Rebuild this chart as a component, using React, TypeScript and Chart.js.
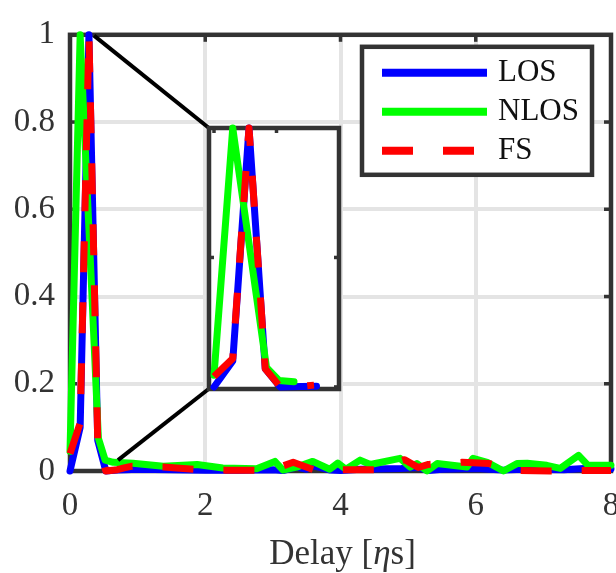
import React, { useEffect, useRef } from "react";
import { Chart, registerables } from "chart.js";

Chart.register(...registerables);

// ---------- data ----------
const losDelay = [0, 0.15, 0.28, 0.41, 0.53, 0.7, 0.82, 1.0, 1.5, 2.0, 2.5, 3.0, 3.15, 3.35, 3.5, 3.6, 3.85, 4.0, 4.3, 4.9, 5.15, 5.3, 5.5, 6.0, 6.4, 6.7, 7.3, 7.6, 8.0];
const losValue = [0, 0.1, 1.0, 0.07, 0.0, 0.002, 0.003, 0.004, 0.003, 0.002, 0.002, 0.003, 0.001, 0.009, 0.004, 0.012, 0.002, 0.001, 0.004, 0.006, 0.008, 0.001, 0.004, 0.006, 0.002, 0.004, 0.003, 0.006, 0.005];

const nlosDelay = [0, 0.15, 0.42, 0.52, 0.64, 0.93, 1.38, 1.88, 2.26, 2.76, 3.03, 3.15, 3.35, 3.59, 3.84, 3.96, 4.08, 4.29, 4.44, 4.88, 5.03, 5.13, 5.28, 5.43, 5.87, 5.96, 6.17, 6.41, 6.61, 6.76, 7.05, 7.25, 7.52, 7.66, 8.0];
const nlosValue = [0.045, 1.0, 0.075, 0.025, 0.02, 0.018, 0.011, 0.015, 0.007, 0.005, 0.022, 0.002, 0.009, 0.022, 0.004, 0.018, 0.004, 0.025, 0.015, 0.029, 0.009, 0.017, 0.0, 0.017, 0.009, 0.029, 0.02, 0.0, 0.017, 0.018, 0.013, 0.006, 0.036, 0.013, 0.013];

const fsDelay = [0, 0.15, 0.28, 0.41, 0.53, 0.7, 0.8, 0.92, 1.38, 1.9, 2.3, 2.8, 3.05, 3.3, 3.62, 4.0, 4.5, 4.95, 5.15, 5.3, 5.8, 6.2, 6.6, 7.1, 7.5, 8.0];
const fsValue = [0.04, 0.11, 1.0, 0.07, 0.0, 0.003, 0.007, 0.011, 0.009, 0.003, 0.002, 0.002, 0.006, 0.02, 0.002, 0.003, 0.003, 0.026, 0.008, 0.015, 0.02, 0.017, 0.001, 0.0, 0.001, 0.001];

const seriesLabels = ["LOS", "NLOS", "FS"];

// axes
const xRange = [0, 8];
const yRange = [0, 1];
const xStep = 2;
const yStep = 0.2;

// inset (zoom of the first peak)
const insetRangeX = [-0.04, 1.0];
const insetRangeY = [-0.008, 1.0];
const insetTicks = [0, 0.5, 1];
const insetMaxDelay = 0.85;
// inset box placed in main-axes data coordinates
const insetBoxX = [2.05, 3.97];
const insetBoxY = [0.188, 0.787];
// connector lines (main data coordinates)
const connectorTopX = [0.355, 2.05];
const connectorTopY = [0.998, 0.787];
const connectorBottomX = [0.71, 2.05];
const connectorBottomY = [0.025, 0.188];

// ---------- styles ----------
const FONT = "'Liberation Serif', 'Times New Roman', serif";
const TEXT = "#333333";
const AXIS = "#333333";
const GRID = "#e4e4e4";
const COLORS = ["#0000ff", "#00ff00", "#ff0000"];
const LW = 7;
const DASH = [31, 30];

const toPoints = (xs: number[], ys: number[], maxX?: number) =>
  xs
    .map((x, i) => ({ x, y: ys[i] }))
    .filter((p) => maxX === undefined || p.x <= maxX);

const makeSeries = (maxX?: number) => {
  const sets = [
    [losDelay, losValue],
    [nlosDelay, nlosValue],
    [fsDelay, fsValue],
  ];
  return sets.map(([xs, ys], i) => ({
    label: seriesLabels[i],
    data: toPoints(xs as number[], ys as number[], maxX),
    borderColor: COLORS[i],
    backgroundColor: COLORS[i],
    borderWidth: LW,
    borderJoinStyle: "round" as const,
    borderCapStyle: i === 2 ? ("butt" as const) : ("round" as const),
    borderDash: i === 2 ? DASH : [],
    pointRadius: 0,
    tension: 0,
    fill: false,
    order: 3 - i,
    clip: 12,
  }));
};

const line = (ctx: CanvasRenderingContext2D, x1: number, y1: number, x2: number, y2: number) => {
  ctx.beginPath();
  ctx.moveTo(x1, y1);
  ctx.lineTo(x2, y2);
  ctx.stroke();
};

const framePlugin = {
  id: "mainFrame",
  beforeDatasetsDraw(chart: any) {
    const { ctx, chartArea: a, scales } = chart;
    ctx.save();
    ctx.strokeStyle = AXIS;
    ctx.lineWidth = 4.5;
    ctx.setLineDash([]);
    ctx.strokeRect(a.left, a.top, a.right - a.left, a.bottom - a.top);
    ctx.lineWidth = 3.5;
    const L = 7;
    scales.x.ticks.forEach((t: any) => {
      const px = scales.x.getPixelForValue(t.value);
      line(ctx, px, a.bottom, px, a.bottom - L);
      line(ctx, px, a.top, px, a.top + L);
    });
    scales.y.ticks.forEach((t: any) => {
      const py = scales.y.getPixelForValue(t.value);
      line(ctx, a.left, py, a.left + L, py);
      line(ctx, a.right, py, a.right - L, py);
    });
    ctx.restore();
  },
};

const legendPlugin = {
  id: "customLegend",
  afterDraw(chart: any) {
    const { ctx, chartArea: a } = chart;
    const bx = a.right - 249;
    const by = a.top + 12;
    const bw = 230;
    const bh = 128;
    ctx.save();
    ctx.fillStyle = "#ffffff";
    ctx.fillRect(bx, by, bw, bh);
    ctx.strokeStyle = AXIS;
    ctx.lineWidth = 4.5;
    ctx.setLineDash([]);
    ctx.strokeRect(bx, by, bw, bh);
    const rows = [26, 65, 104];
    chart.data.datasets.slice(0, 3).forEach((ds: any, i: number) => {
      const y = by + rows[i];
      ctx.strokeStyle = ds.borderColor;
      ctx.lineWidth = 8;
      ctx.lineCap = "butt";
      ctx.setLineDash(ds.borderDash || []);
      line(ctx, bx + 20, y, bx + 125, y);
      ctx.setLineDash([]);
      ctx.fillStyle = "#111111";
      ctx.font = `31px ${FONT}`;
      ctx.textAlign = "left";
      ctx.textBaseline = "alphabetic";
      ctx.fillText(ds.label, bx + 136, y + 8);
    });
    ctx.restore();
  },
};

const titlePlugin = {
  id: "xTitle",
  afterDraw(chart: any) {
    const { ctx, chartArea: a } = chart;
    const parts = [
      { t: "Delay [", f: `35px ${FONT}` },
      { t: "η", f: `italic 35px ${FONT}` },
      { t: "s]", f: `35px ${FONT}` },
    ];
    ctx.save();
    let total = 0;
    const widths = parts.map((p) => {
      ctx.font = p.f;
      const w = ctx.measureText(p.t).width;
      total += w;
      return w;
    });
    let x = (a.left + a.right) / 2 + 2 - total / 2;
    ctx.fillStyle = TEXT;
    ctx.textBaseline = "alphabetic";
    ctx.textAlign = "left";
    parts.forEach((p, i) => {
      ctx.font = p.f;
      ctx.fillText(p.t, x, 564);
      x += widths[i];
    });
    ctx.restore();
  },
};

const insetPlugin = {
  id: "insetFrame",
  beforeDraw(chart: any) {
    const { ctx, chartArea: a } = chart;
    ctx.save();
    ctx.fillStyle = "#ffffff";
    ctx.fillRect(a.left, a.top, a.right - a.left, a.bottom - a.top);
    ctx.restore();
  },
  beforeDatasetsDraw(chart: any) {
    const { ctx, chartArea: a, scales } = chart;
    ctx.save();
    ctx.strokeStyle = AXIS;
    ctx.lineWidth = 4.5;
    ctx.setLineDash([]);
    ctx.strokeRect(a.left, a.top, a.right - a.left, a.bottom - a.top);
    ctx.lineWidth = 3.5;
    const L = 5;
    insetTicks.forEach((v) => {
      const px = scales.x.getPixelForValue(v);
      line(ctx, px, a.bottom, px, a.bottom - L);
      line(ctx, px, a.top, px, a.top + L);
      const py = scales.y.getPixelForValue(v);
      line(ctx, a.left, py, a.left + L, py);
      line(ctx, a.right, py, a.right - L, py);
    });
    ctx.restore();
  },
};

const fmtTick = (v: any) => `${+Number(v).toFixed(2)}`;

export default function App() {
  const mainRef = useRef<HTMLCanvasElement>(null);
  const insetRef = useRef<HTMLCanvasElement>(null);

  useEffect(() => {
    if (!mainRef.current || !insetRef.current) return;
    const tickFont = { family: FONT, size: 33 };
    const main = new Chart(mainRef.current, {
      type: "line",
      data: {
        datasets: [
          ...makeSeries(),
          {
            label: "",
            data: toPoints(connectorTopX, connectorTopY),
            borderColor: "#000000",
            borderWidth: 4,
            pointRadius: 0,
            order: 0,
            clip: false,
          } as any,
          {
            label: "",
            data: toPoints(connectorBottomX, connectorBottomY),
            borderColor: "#000000",
            borderWidth: 4,
            pointRadius: 0,
            order: 0,
            clip: false,
          } as any,
        ],
      },
      options: {
        responsive: false,
        animation: false,
        devicePixelRatio: 1,
        events: [],
        layout: { padding: { top: 24, right: 29, left: 0, bottom: 0 } },
        plugins: {
          legend: { display: false },
          tooltip: { enabled: false },
        },
        scales: {
          x: {
            type: "linear",
            min: xRange[0],
            max: xRange[1],
            ticks: { stepSize: xStep, font: tickFont, color: TEXT, padding: 16, maxRotation: 0, callback: fmtTick },
            grid: { color: GRID, lineWidth: 4, drawTicks: false },
            border: { display: false },
            afterFit: (s: any) => {
              s.height = 102;
            },
          },
          y: {
            type: "linear",
            min: yRange[0],
            max: yRange[1],
            ticks: { stepSize: yStep, font: tickFont, color: TEXT, padding: 15, callback: fmtTick },
            grid: { color: GRID, lineWidth: 4, drawTicks: false },
            border: { display: false },
            afterFit: (s: any) => {
              s.width = 70;
            },
          },
        },
      } as any,
      plugins: [framePlugin, legendPlugin, titlePlugin],
    });

    const xs = main.scales.x;
    const ys = main.scales.y;
    const left = xs.getPixelForValue(insetBoxX[0]);
    const right = xs.getPixelForValue(insetBoxX[1]);
    const top = ys.getPixelForValue(insetBoxY[1]);
    const bottom = ys.getPixelForValue(insetBoxY[0]);
    const M = 10;
    const ic = insetRef.current;
    ic.width = Math.round(right - left) + 2 * M;
    ic.height = Math.round(bottom - top) + 2 * M;
    ic.style.left = `${Math.round(left) - M}px`;
    ic.style.top = `${Math.round(top) - M}px`;

    const inset = new Chart(ic, {
      type: "line",
      data: { datasets: makeSeries(insetMaxDelay) },
      options: {
        responsive: false,
        animation: false,
        devicePixelRatio: 1,
        events: [],
        layout: { padding: M },
        plugins: { legend: { display: false }, tooltip: { enabled: false } },
        scales: {
          x: { type: "linear", min: insetRangeX[0], max: insetRangeX[1], display: false },
          y: { type: "linear", min: insetRangeY[0], max: insetRangeY[1], display: false },
        },
      } as any,
      plugins: [insetPlugin],
    });

    return () => {
      inset.destroy();
      main.destroy();
    };
  }, []);

  return (
    <div
      style={{
        position: "absolute",
        left: 0,
        top: 0,
        width: 616,
        height: 573,
        overflow: "hidden",
        background: "#ffffff",
      }}
    >
      <div style={{ position: "relative", width: 640, height: 573 }}>
        <canvas ref={mainRef} width={640} height={573} style={{ position: "absolute", left: 0, top: 0 }} />
        <canvas ref={insetRef} style={{ position: "absolute", left: 0, top: 0 }} />
      </div>
    </div>
  );
}
